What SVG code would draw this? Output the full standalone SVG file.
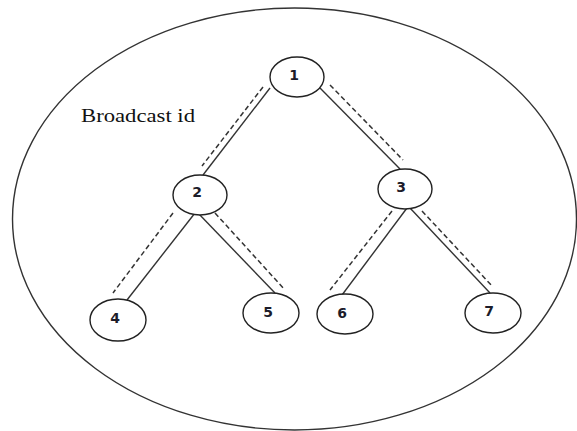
<svg xmlns="http://www.w3.org/2000/svg" width="577" height="431" viewBox="0 0 577 431">
<style>
.outer{fill:none;stroke:#333;stroke-width:1.4}
.node ellipse{fill:#fff;stroke:#222;stroke-width:1.4}
.node text{font-family:"DejaVu Sans",sans-serif;font-size:14px;font-weight:bold;fill:#1c1c2a;text-anchor:middle}
.solid{stroke:#333;stroke-width:1.4;fill:none}
.dash{stroke:#333;stroke-width:1.5;fill:none;stroke-dasharray:5 3}
.label{font-family:"Liberation Serif",serif;font-size:18px;fill:#111}
</style>
<rect width="577" height="431" fill="#fff"/>
<ellipse class="outer" cx="294.5" cy="219" rx="282" ry="211"/>
<text class="label" x="81" y="122" textLength="114" lengthAdjust="spacingAndGlyphs">Broadcast id</text>
<g id="connectors">
<line class="solid" x1="270" y1="88" x2="203" y2="175"/>
<line class="dash" x1="263" y1="87" x2="202" y2="166"/>
<line class="solid" x1="320" y1="88" x2="400" y2="169"/>
<line class="dash" x1="330" y1="85" x2="403" y2="160"/>
<line class="solid" x1="195" y1="213" x2="127" y2="300"/>
<line class="dash" x1="173" y1="213" x2="113" y2="293"/>
<line class="solid" x1="198" y1="213" x2="275" y2="293"/>
<line class="dash" x1="215" y1="213" x2="285" y2="290"/>
<line class="solid" x1="407" y1="208" x2="342" y2="295"/>
<line class="dash" x1="392" y1="211" x2="330" y2="290"/>
<line class="solid" x1="410" y1="208" x2="490" y2="293"/>
<line class="dash" x1="422" y1="211" x2="493" y2="287"/>
</g>
<g id="node1" class="node"><ellipse cx="297" cy="77" rx="27" ry="20"/><text x="294" y="80">1</text></g>
<g id="node2" class="node"><ellipse cx="200" cy="195" rx="27" ry="20"/><text x="197" y="197">2</text></g>
<g id="node3" class="node"><ellipse cx="405" cy="189" rx="27" ry="20"/><text x="401" y="192">3</text></g>
<g id="node4" class="node"><ellipse cx="118" cy="320" rx="28" ry="21"/><text x="115" y="323">4</text></g>
<g id="node5" class="node"><ellipse cx="271" cy="313" rx="28" ry="20"/><text x="268" y="317">5</text></g>
<g id="node6" class="node"><ellipse cx="345" cy="314" rx="28" ry="20"/><text x="342" y="318">6</text></g>
<g id="node7" class="node"><ellipse cx="493" cy="313" rx="28" ry="20"/><text x="489" y="316">7</text></g>
</svg>
